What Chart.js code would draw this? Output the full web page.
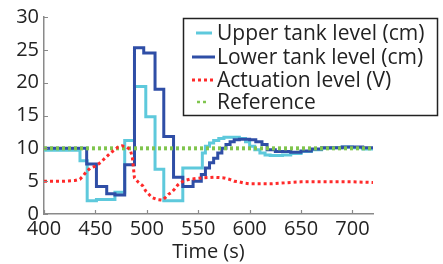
<!DOCTYPE html>
<html><head><meta charset="utf-8">
<script src="https://cdn.jsdelivr.net/npm/chart.js@4/dist/chart.umd.min.js"></script>
<style>html,body{margin:0;padding:0;background:#fff}#wrap{width:443px;height:264px;position:relative}</style>
</head><body><div id="wrap"><canvas id="c" width="443" height="264"></canvas></div>
<script>
// ---- data (time in s, value) ----
const seriesNames = ["Upper tank level (cm)", "Lower tank level (cm)", "Actuation level (V)", "Reference"];
const xTicks = [400, 450, 500, 550, 600, 650, 700];
const yTicks = [0, 5, 10, 15, 20, 25, 30];

const upperT = [400, 435, 442, 451, 469, 478.5, 488, 499, 508, 516.5, 535, 554, 557, 561, 565, 570, 575, 590, 596, 600, 605, 610, 615, 620, 632, 640, 650, 660, 670, 680, 690, 700, 710, 720];
const upperV = [9.7, 8.1, 2.0, 2.2, 3.3, 11.2, 19.4, 14.8, 6.8, 2.0, 7.0, 9.3, 10.3, 10.8, 11.2, 11.5, 11.7, 11.5, 11.0, 10.3, 9.8, 9.3, 9.0, 8.9, 9.0, 9.2, 9.5, 9.8, 10.0, 10.1, 10.2, 10.1, 9.9, 9.9];

const lowerT = [400, 441.5, 451, 461, 469, 478.5, 488, 497, 508, 516.5, 526, 535, 545, 553, 557, 561, 565, 569, 573, 577, 581, 585, 590, 600, 606, 612, 617, 625, 640, 650, 660, 670, 690, 710, 720];
const lowerV = [10.0, 7.6, 4.2, 3.1, 2.9, 7.5, 25.3, 24.5, 19.0, 11.8, 5.6, 4.2, 5.0, 6.0, 7.0, 7.8, 8.5, 9.3, 10.0, 10.6, 11.0, 11.3, 11.4, 11.3, 11.0, 10.6, 9.8, 9.5, 9.4, 9.6, 9.9, 10.1, 10.2, 10.1, 10.1];

const actT = [400, 410, 420, 430, 435, 438, 441, 445, 450, 453, 456, 460, 464, 468, 472, 476, 480, 484, 486, 487, 488, 492, 496, 499, 502, 505, 510, 515, 518, 521, 524, 527, 530, 533, 537, 542, 548, 555, 565, 575, 580, 585, 590, 595, 600, 610, 620, 630, 640, 650, 660, 680, 700, 720];
const actV = [5.0, 5.0, 5.0, 5.1, 5.3, 5.8, 6.4, 7.0, 7.3, 7.6, 8.0, 8.6, 9.2, 9.7, 10.2, 10.4, 10.2, 9.8, 8.5, 7.0, 5.5, 4.8, 4.3, 3.5, 3.0, 2.5, 2.2, 2.1, 2.5, 3.0, 3.3, 3.8, 4.4, 4.8, 5.1, 5.3, 5.4, 5.5, 5.6, 5.5, 5.3, 5.0, 4.9, 4.7, 4.6, 4.6, 4.6, 4.7, 4.8, 4.9, 4.9, 4.9, 4.9, 4.8];

const refT = [400, 720];
const refV = [10, 10];

const colors = ["#5ec9dc", "#2f4ea6", "#ff2a2a", "#80c54e"];

function pts(t, v) { return t.map((x, i) => ({ x: x, y: v[i] })); }

const FONT = "'Open Sans', 'DejaVu Sans', sans-serif";

const inwardTicks = {
  id: 'inwardTicks',
  afterDatasetsDraw(chart) {
    const ctx = chart.ctx, a = chart.chartArea;
    const xs = chart.scales.x, ys = chart.scales.y;
    ctx.save();
    ctx.strokeStyle = '#8a8a8a';
    ctx.lineWidth = 1.2;
    ctx.beginPath();
    xTicks.forEach(v => { const p = Math.round(xs.getPixelForValue(v)) + 0.5; ctx.moveTo(p, a.bottom); ctx.lineTo(p, a.bottom - 4); });
    yTicks.forEach(v => { const p = Math.round(ys.getPixelForValue(v)) + 0.5; ctx.moveTo(a.left, p); ctx.lineTo(a.left + 4, p); });
    ctx.stroke();
    ctx.restore();
  }
};

const boxLegend = {
  id: 'boxLegend',
  afterDraw(chart) {
    const ctx = chart.ctx;
    const L = 183, T = 18, R = 438, B = 116;
    ctx.save();
    ctx.fillStyle = '#fff';
    ctx.fillRect(L, T, R - L, B - T);
    ctx.strokeStyle = '#222';
    ctx.lineWidth = 1.5;
    ctx.strokeRect(L + 0.5, T + 0.5, R - L - 1, B - T - 1);
    const rows = [33, 57, 80, 102];
    const samples = [[196, 212], [192, 215], [192, 213], [197, 208]];
    chart.data.datasets.forEach((ds, i) => {
      ctx.beginPath();
      ctx.strokeStyle = ds.borderColor;
      ctx.lineWidth = i === 3 ? 2.5 : 3;
      ctx.setLineDash(ds.borderDash || []);
      ctx.moveTo(samples[i][0], rows[i]);
      ctx.lineTo(samples[i][1], rows[i]);
      ctx.stroke();
      ctx.setLineDash([]);
      ctx.fillStyle = '#222';
      ctx.font = "21px " + FONT;
      ctx.textBaseline = 'middle';
      ctx.textAlign = 'left';
      ctx.fillText(ds.label, 217, rows[i] + 1);
    });
    ctx.restore();
  }
};

new Chart(document.getElementById('c'), {
  type: 'line',
  data: {
    datasets: [
      { label: seriesNames[0], data: pts(upperT, upperV), borderColor: colors[0], borderWidth: 3, stepped: 'before', pointRadius: 0, fill: false, order: 3 },
      { label: seriesNames[1], data: pts(lowerT, lowerV), borderColor: colors[1], borderWidth: 3, stepped: 'before', pointRadius: 0, fill: false, order: 2 },
      { label: seriesNames[2], data: pts(actT, actV), borderColor: colors[2], borderWidth: 3, borderDash: [3, 3], tension: 0, pointRadius: 0, fill: false, order: 0 },
      { label: seriesNames[3], data: pts(refT, refV), borderColor: colors[3], borderWidth: 4, borderDash: [3, 3], pointRadius: 0, fill: false, order: 1 }
    ]
  },
  options: {
    responsive: false,
    animation: false,
    devicePixelRatio: 1,
    layout: { padding: { top: 17, right: 70, left: 0, bottom: 0 } },
    plugins: { legend: { display: false }, tooltip: { enabled: false } },
    scales: {
      x: {
        type: 'linear', min: 400, max: 720,
        afterBuildTicks: s => { s.ticks = xTicks.map(v => ({ value: v })); },
        afterFit: s => { s.height = 50; },
        grid: { display: false, drawTicks: false },
        border: { display: true, color: '#8a8a8a', width: 1.5 },
        ticks: { color: '#222', font: { family: FONT, size: 20 }, padding: 3, maxRotation: 0, autoSkip: false },
        title: { display: true, text: 'Time (s)', color: '#222', font: { family: FONT, size: 20 }, padding: { top: 2, bottom: 0 } }
      },
      y: {
        min: 0, max: 30,
        afterBuildTicks: s => { s.ticks = yTicks.map(v => ({ value: v })); },
        afterFit: s => { s.width = 44; },
        grid: { display: false, drawTicks: false },
        border: { display: true, color: '#8a8a8a', width: 1.5 },
        ticks: { color: '#222', font: { family: FONT, size: 20 }, padding: 5 }
      }
    }
  },
  plugins: [inwardTicks, boxLegend]
});
</script></body></html>
